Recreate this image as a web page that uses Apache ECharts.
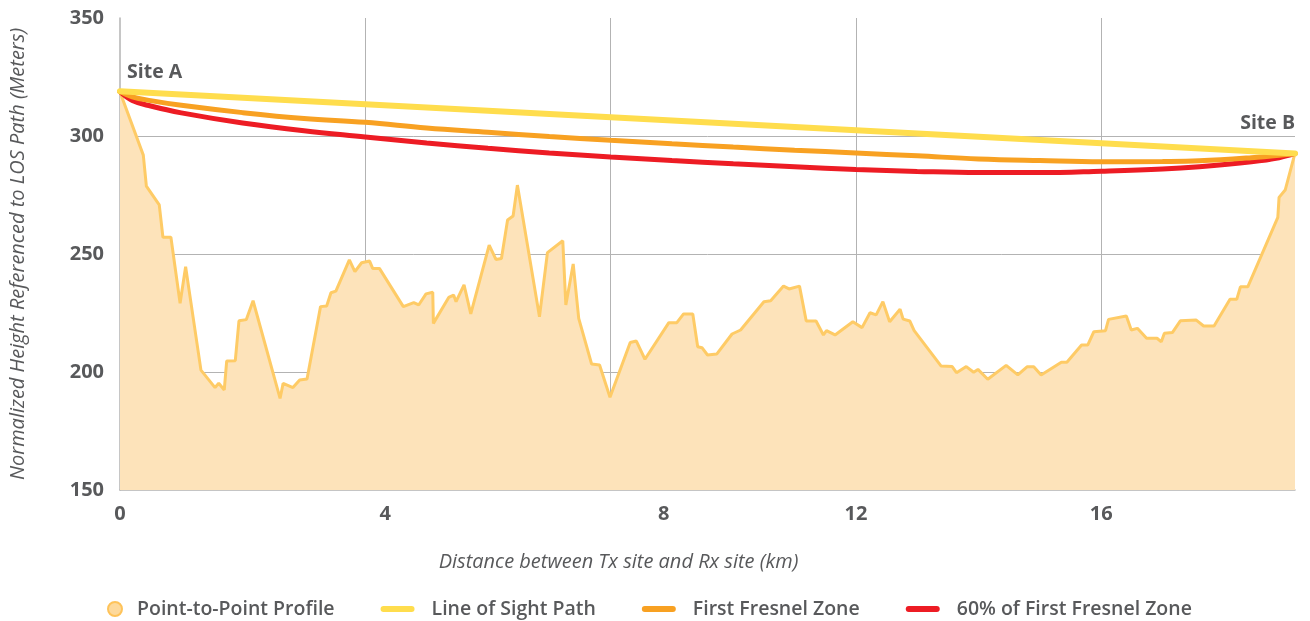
<!DOCTYPE html>
<html><head><meta charset="utf-8">
<script src="https://cdn.jsdelivr.net/npm/echarts@6/dist/echarts.min.js"></script>
<style>html,body{margin:0;padding:0;background:#fff}#c{width:1310px;height:621px}</style>
</head><body><div id="c"></div>
<script>
// ---- data ----
const xTickLabels = [0, 4, 8, 12, 16];
const yTickLabels = [150, 200, 250, 300, 350];
const seriesNames = ['Point-to-Point Profile', 'Line of Sight Path', 'First Fresnel Zone', '60% of First Fresnel Zone'];
const pathLengthKm = 19.16;
const profile = [
  [0, 318.6], [0.38, 291.9], [0.43, 278.8], [0.64, 270.8], [0.70, 257.1], [0.83, 257.1], [0.98, 229.1], [1.07, 244.6],
  [1.32, 200.8], [1.55, 193.4], [1.61, 195.2], [1.70, 192.4], [1.74, 204.7], [1.88, 204.8], [1.94, 221.7], [2.06, 222.2],
  [2.17, 230.2], [2.61, 188.8], [2.66, 195.2], [2.82, 193.4], [2.93, 196.6], [3.05, 197.0], [3.27, 227.7], [3.37, 228.0],
  [3.44, 233.6], [3.52, 234.3], [3.74, 247.5], [3.83, 242.5], [3.94, 246.3], [4.07, 247.0], [4.12, 243.9], [4.23, 243.9],
  [4.62, 227.7], [4.79, 229.4], [4.87, 228.4], [4.99, 233.1], [5.10, 233.8], [5.11, 220.6], [5.36, 231.6], [5.44, 232.6],
  [5.48, 229.8], [5.61, 236.9], [5.72, 224.6], [6.02, 253.8], [6.13, 247.7], [6.22, 248.1], [6.32, 264.4], [6.41, 266.1],
  [6.48, 279.2], [6.84, 223.4], [6.97, 250.6], [7.22, 255.6], [7.27, 228.4], [7.39, 245.8], [7.48, 222.7], [7.69, 203.4],
  [7.82, 203.0], [7.99, 189.3], [8.32, 212.5], [8.42, 213.1], [8.56, 205.4], [8.95, 220.9], [9.08, 220.9], [9.19, 224.6],
  [9.34, 224.6], [9.42, 210.7], [9.49, 210.3], [9.58, 207.2], [9.73, 207.6], [9.98, 216.1], [10.12, 217.8], [10.50, 229.8],
  [10.61, 230.2], [10.82, 236.4], [10.91, 235.2], [11.08, 236.4], [11.19, 221.6], [11.35, 221.6], [11.47, 215.7], [11.52, 217.5],
  [11.66, 215.7], [11.95, 221.3], [12.10, 218.8], [12.23, 225.1], [12.33, 224.2], [12.44, 229.8], [12.55, 221.3], [12.72, 226.6],
  [12.77, 222.4], [12.88, 221.6], [12.95, 217.5], [13.39, 202.5], [13.57, 202.3], [13.64, 199.7], [13.80, 202.3], [13.92, 199.9],
  [13.99, 201.1], [14.15, 196.9], [14.45, 202.8], [14.64, 198.8], [14.79, 202.2], [14.90, 202.2], [15.02, 198.7], [15.35, 204.1],
  [15.44, 204.1], [15.68, 211.4], [15.78, 211.4], [15.88, 217.1], [16.07, 217.5], [16.12, 222.3], [16.41, 223.7], [16.49, 217.8],
  [16.59, 218.5], [16.74, 214.3], [16.91, 214.3], [16.98, 212.8], [17.03, 216.4], [17.16, 216.7], [17.29, 221.7], [17.55, 222.0],
  [17.67, 219.5], [17.84, 219.5], [18.10, 230.8], [18.21, 230.8], [18.27, 236.1], [18.39, 236.1], [18.88, 265.5], [18.90, 274.0],
  [19.00, 277.1], [19.16, 292.7]
];
const lineOfSight = [[0, 319.0], [19.16, 292.6]];
const fresnelZone = [
  [0, 318.8], [0.2, 316.6], [0.5, 315.0], [1, 313.0], [2, 309.9], [3, 307.4], [4, 305.8], [5, 303.4], [6, 301.6], [7, 299.8],
  [8, 298.2], [9, 296.7], [10, 295.3], [11, 294.0], [12, 292.8], [13, 291.6], [14, 290.3], [15, 289.6], [16, 289.1],
  [17, 289.2], [17.6, 289.5], [18.45, 290.8], [18.9, 291.8], [19.16, 292.6]
];
const fresnel60 = [
  [0, 318.8], [0.2, 315.1], [0.5, 312.7], [1, 309.8], [2, 305.5], [3, 302.2], [4, 299.6], [5, 297.0], [6, 294.8], [7, 292.8],
  [8, 291.1], [9, 289.6], [10, 288.2], [11, 287.0], [12, 285.8], [13, 285.0], [14, 284.5], [15, 284.5], [16, 285.1],
  [17, 286.0], [17.6, 287.0], [18.45, 289.1], [18.9, 290.8], [19.16, 292.6]
];
const siteLabels = [
  { name: 'Site A', coord: [0, 319.0] },
  { name: 'Site B', coord: [19.16, 292.6] }
];

// ---- chart ----
const FONT = '"Open Sans", Lato, sans-serif';
const TXT = '#58595b';
const GRID = '#b3b3b3';
const LINE_ICON = 'path://M3,0 L31,0 A3,3 0 0 1 31,6 L3,6 A3,3 0 0 1 3,0 Z';
const chart = echarts.init(document.getElementById('c'), null, { renderer: 'canvas' });

const lbl = { fontFamily: FONT, fontSize: 20, fontWeight: 'bold', color: TXT };
const tickRich = {
  n: Object.assign({}, lbl),
  s4: Object.assign({}, lbl, { padding: [0, 0, 0, 40] }),
  s8: Object.assign({}, lbl, { padding: [0, 0, 0, 106] })
};

chart.setOption({
  animation: false,
  backgroundColor: '#fff',
  textStyle: { fontFamily: FONT },
  grid: { left: 120, right: 15, top: 18, bottom: 131, containLabel: false },
  legend: {
    left: 102, top: 594,
    itemWidth: 34, itemHeight: 14, itemGap: 46,
    textStyle: { fontFamily: FONT, fontSize: 19.5, fontWeight: 600, color: TXT },
    data: [
      { name: seriesNames[0], icon: 'circle', itemStyle: { color: '#fdd99b', borderColor: '#fec35a', borderWidth: 2 } },
      { name: seriesNames[1], icon: LINE_ICON, itemStyle: { color: '#ffdd4d', borderWidth: 0 }, textStyle: { padding: [0, 0, 0, 12] } },
      { name: seriesNames[2], icon: LINE_ICON, itemStyle: { color: '#f8a122', borderWidth: 0 }, textStyle: { padding: [0, 0, 0, 12] } },
      { name: seriesNames[3], icon: LINE_ICON, itemStyle: { color: '#ed1c24', borderWidth: 0 }, textStyle: { padding: [0, 0, 0, 12] } }
    ]
  },
  xAxis: {
    type: 'value', min: 0, max: pathLengthKm, interval: 4,
    name: 'Distance between Tx site and Rx site (km)',
    nameLocation: 'middle', nameGap: 62,
    nameTextStyle: { fontFamily: FONT, fontSize: 20, fontStyle: 'italic', color: TXT, padding: [0, 178, 0, 0] },
    axisLine: { show: true, lineStyle: { color: GRID, width: 1.5 } },
    axisTick: { show: false },
    axisLabel: {
      margin: 14, showMaxLabel: false,
      formatter: v => {
        if (xTickLabels.indexOf(v) < 0) return '';
        if (v === 4) return '{s4|' + v + '}';
        if (v === 8) return '{s8|' + v + '}';
        return '{n|' + v + '}';
      },
      rich: tickRich
    },
    splitLine: { show: true, showMinLine: false, showMaxLine: false, lineStyle: { color: GRID, width: 1 } }
  },
  yAxis: {
    type: 'value', min: yTickLabels[0], max: yTickLabels[yTickLabels.length - 1], interval: 50,
    name: 'Normalized Height Referenced to LOS Path (Meters)',
    nameLocation: 'middle', nameGap: 92,
    nameTextStyle: { fontFamily: FONT, fontSize: 20, fontStyle: 'italic', color: TXT },
    axisLine: { show: true, lineStyle: { color: GRID, width: 1.5 } },
    axisTick: { show: false },
    axisLabel: { margin: 16, fontFamily: FONT, fontSize: 20, fontWeight: 'bold', color: TXT,
      formatter: v => (yTickLabels.indexOf(v) >= 0 ? String(v) : '') },
    splitLine: { show: true, showMinLine: false, showMaxLine: false, lineStyle: { color: GRID, width: 1 } }
  },
  series: [
    {
      name: seriesNames[0], type: 'line', data: profile, symbol: 'none', z: 1,
      lineStyle: { color: '#fecb66', width: 3 },
      itemStyle: { color: '#fecb66' },
      areaStyle: { color: '#fde3ba', opacity: 1 }
    },
    {
      name: seriesNames[3], type: 'line', data: fresnel60, symbol: 'none', smooth: 0.4, z: 3,
      lineStyle: { color: '#ed1c24', width: 5, cap: 'round' },
      itemStyle: { color: '#ed1c24' }
    },
    {
      name: seriesNames[2], type: 'line', data: fresnelZone, symbol: 'none', smooth: 0.4, z: 4,
      lineStyle: { color: '#f8a122', width: 5, cap: 'round' },
      itemStyle: { color: '#f8a122' }
    },
    {
      name: seriesNames[1], type: 'line', data: lineOfSight, symbol: 'none', z: 5,
      lineStyle: { color: '#ffdd4d', width: 6, cap: 'round' },
      itemStyle: { color: '#ffdd4d' },
      markPoint: {
        symbol: 'circle', symbolSize: 1,
        itemStyle: { color: 'rgba(0,0,0,0)' },
        label: { show: true, formatter: '{b}', fontFamily: FONT, fontSize: 19.5, fontWeight: 'bold', color: TXT },
        data: [
          { name: siteLabels[0].name, coord: siteLabels[0].coord, label: { position: 'top', align: 'left', offset: [7, -3] } },
          { name: siteLabels[1].name, coord: siteLabels[1].coord, label: { position: 'top', align: 'right', offset: [0, -15] } }
        ]
      }
    }
  ]
});
</script>
</body></html>
